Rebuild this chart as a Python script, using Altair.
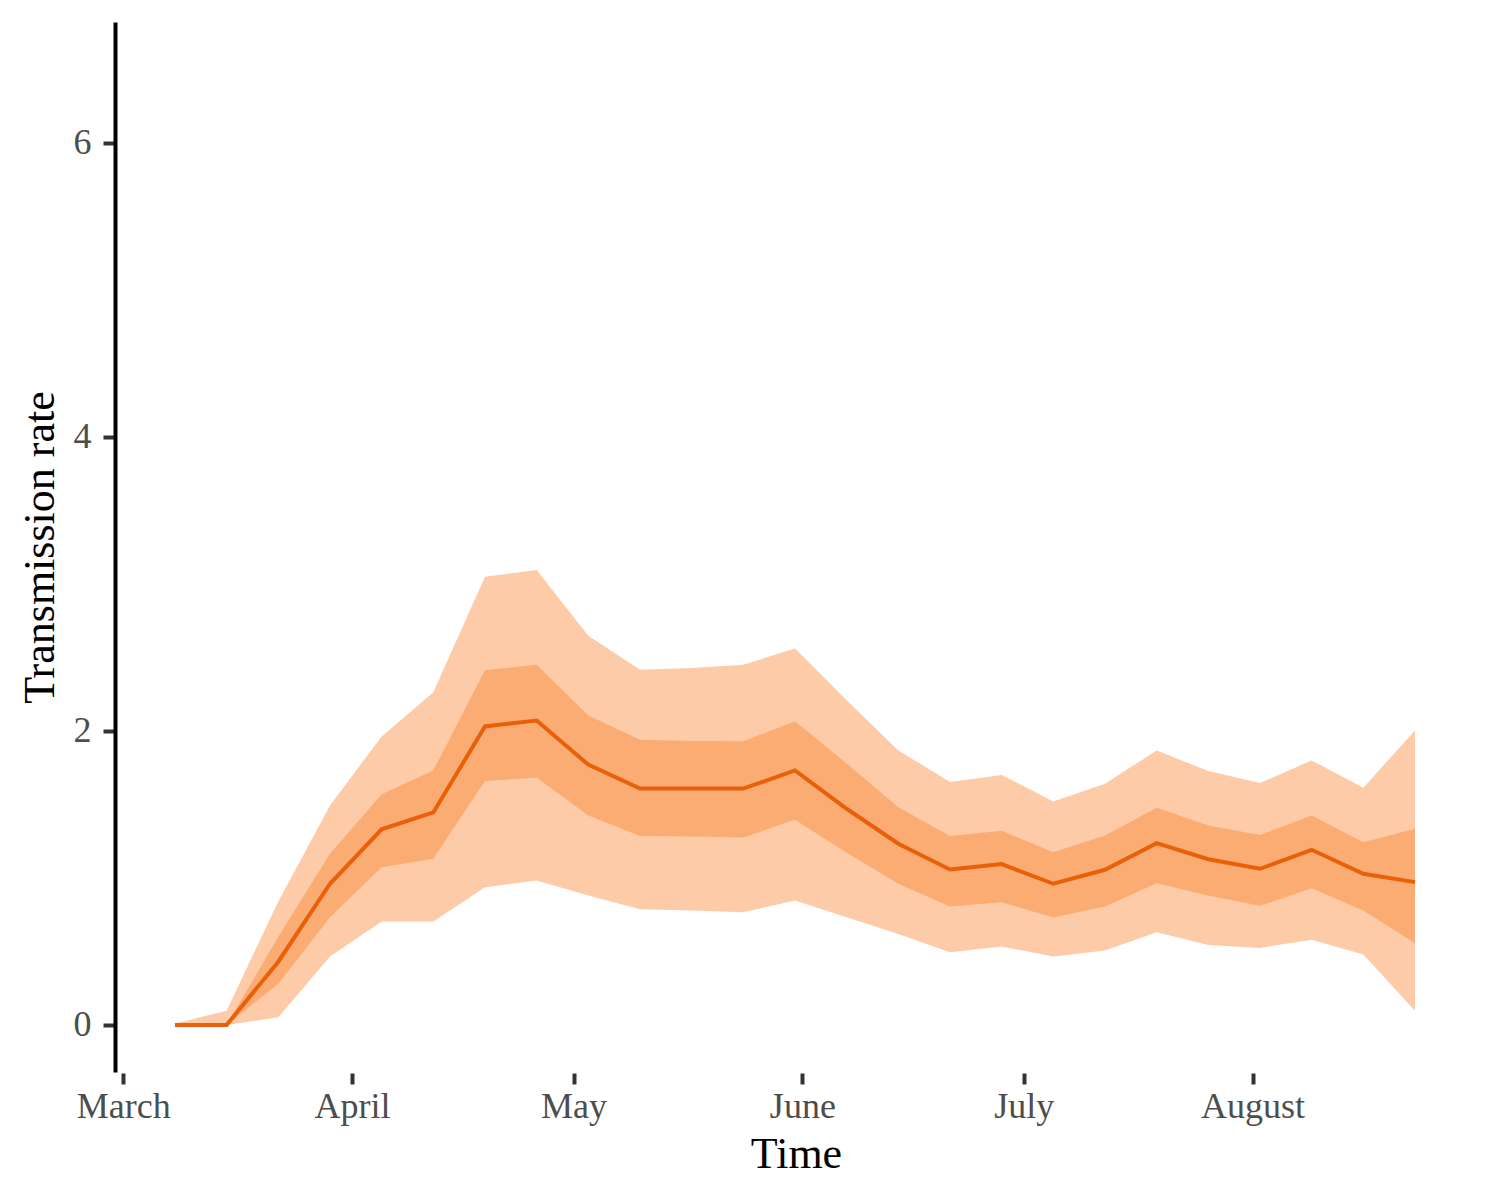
import altair as alt
import pandas as pd

dates = pd.date_range("2020-03-08", periods=25, freq="7D").strftime("%Y-%m-%d").tolist()

median = [0.0, 0.0, 0.43, 0.96, 1.33, 1.445, 2.03, 2.07, 1.77, 1.607, 1.607, 1.607, 1.731,
          1.47, 1.232, 1.057, 1.094, 0.96, 1.055, 1.236, 1.127, 1.062, 1.191, 1.028, 0.971]
outer_hi = [0.01, 0.097, 0.84, 1.493, 1.962, 2.262, 3.047, 3.093, 2.646, 2.415, 2.428, 2.45, 2.56,
            2.208, 1.867, 1.652, 1.70, 1.52, 1.64, 1.867, 1.726, 1.645, 1.799, 1.613, 2.003]
inner_hi = [0.0, 0.0, 0.6, 1.164, 1.568, 1.731, 2.412, 2.45, 2.105, 1.94, 1.93, 1.929, 2.065,
            1.777, 1.481, 1.284, 1.32, 1.175, 1.289, 1.477, 1.357, 1.291, 1.425, 1.243, 1.334]
inner_lo = [0.0, 0.0, 0.28, 0.733, 1.073, 1.13, 1.658, 1.681, 1.425, 1.285, 1.282, 1.275, 1.395,
            1.171, 0.96, 0.805, 0.835, 0.73, 0.805, 0.964, 0.88, 0.81, 0.93, 0.778, 0.556]
outer_lo = [0.0, 0.0, 0.052, 0.465, 0.703, 0.703, 0.937, 0.982, 0.88, 0.786, 0.778, 0.767, 0.846,
            0.733, 0.619, 0.494, 0.533, 0.465, 0.506, 0.63, 0.544, 0.524, 0.579, 0.479, 0.097]

y_ticks = [0, 2, 4, 6]
month_ticks = [3, 4, 5, 6, 7, 8]

df = pd.DataFrame({
    "date": dates, "median": median,
    "outer_hi": outer_hi, "outer_lo": outer_lo,
    "inner_hi": inner_hi, "inner_lo": inner_lo,
})

FONT = "Liberation Serif"

x_scale = alt.Scale(
    type="utc",
    domain=[alt.DateTime(year=2020, month=2, date=28, hours=21, minutes=0, utc=True),
            alt.DateTime(year=2020, month=8, date=31, hours=9, minutes=36, utc=True)],
    nice=False,
)
y_scale = alt.Scale(domain=[-0.32, 6.82], nice=False, zero=False)

x_axis = alt.Axis(
    title="Time",
    values=[alt.DateTime(year=2020, month=m, date=1, utc=True) for m in month_ticks],
    format="%B", formatType="utc",
    domain=False, grid=False,
    tickColor="#333333", tickWidth=4, tickSize=11, offset=1,
    labelFont=FONT, labelFontSize=36, labelColor="#4D4D4D", labelPadding=5,
    labelOverlap=False, labelFlush=False,
    titleFont=FONT, titleFontSize=44, titleColor="black", titleFontWeight="normal",
    titleBaseline="alphabetic", titleY=94, titleX=681, titleAlign="center",
)
y_axis = alt.Axis(
    title="Transmission rate",
    values=y_ticks, format="d",
    domain=True, domainColor="black", domainWidth=4, grid=False,
    tickColor="#333333", tickWidth=4, tickSize=12,
    labelFont=FONT, labelFontSize=36, labelColor="#4D4D4D", labelPadding=12,
    titleFont=FONT, titleFontSize=44, titleColor="black", titleFontWeight="normal",
    titleAngle=270, titleBaseline="alphabetic", titleAlign="center", titleX=-62, titleY=525,
)

base = alt.Chart(df)

outer = base.mark_area(color="#FDCBA8", opacity=1).encode(
    x=alt.X("date:T", scale=x_scale, axis=x_axis),
    y=alt.Y("outer_lo:Q", scale=y_scale, axis=y_axis),
    y2="outer_hi:Q",
)
inner = base.mark_area(color="#FBAC73", opacity=1).encode(
    x="date:T", y="inner_lo:Q", y2="inner_hi:Q",
)
line = base.mark_line(color="#E8600A", strokeWidth=4).encode(
    x="date:T", y="median:Q",
)

chart = alt.layer(outer, inner, line).properties(
    width=1362, height=1050,
    padding={"left": 107, "top": 14, "right": 5, "bottom": 115},
    autosize=alt.AutoSizeParams(type="none"),
    background="white",
).configure_view(stroke=None)

chart.save("out.html", embed_options={"renderer": "svg", "actions": False})
